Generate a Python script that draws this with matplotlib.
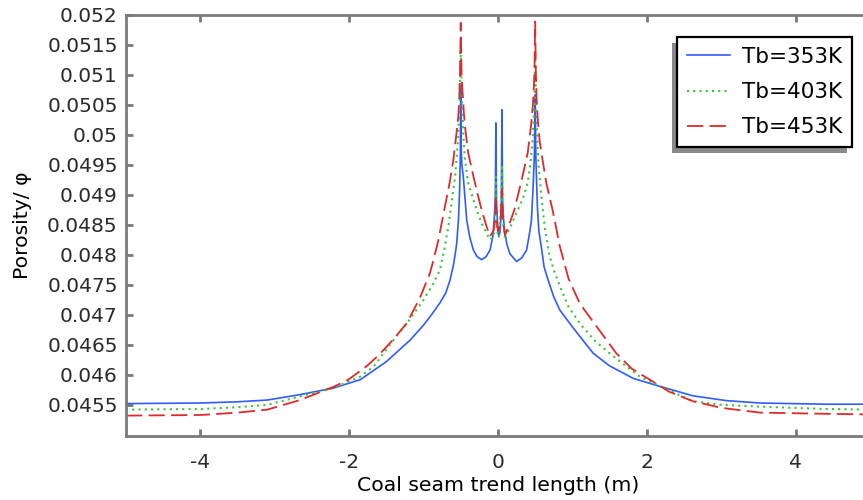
import matplotlib
matplotlib.use("Agg")
import matplotlib.pyplot as plt
from matplotlib.patches import Rectangle
from matplotlib.ticker import FuncFormatter

plt.rcParams['axes.unicode_minus'] = False
plt.rcParams['font.family'] = 'DejaVu Sans'

# porosity along the seam, Tb = 353 K
x353 = [-5.0, -4.0, -3.5, -3.1, -2.66, -2.21, -1.85, -1.5, -1.18, -1.0, -0.9,
        -0.78, -0.7, -0.644, -0.6, -0.57, -0.554, -0.53, -0.515, -0.505, -0.5,
        -0.495, -0.485, -0.466, -0.44, -0.42, -0.38, -0.33, -0.28, -0.22, -0.16,
        -0.107, -0.07, -0.05, -0.035, -0.027, -0.02, 0.0, 0.012, 0.03, 0.045,
        0.054, 0.062, 0.075, 0.09, 0.12, 0.16, 0.25, 0.32, 0.385, 0.43, 0.45,
        0.475, 0.49, 0.5, 0.51, 0.53, 0.55, 0.587, 0.62, 0.675, 0.75, 0.832,
        1.0, 1.28, 1.5, 1.82, 2.17, 2.62, 3.07, 3.52, 4.41, 5.0]
y353 = [0.04552, 0.04553, 0.04555, 0.04558, 0.04567, 0.04578, 0.04592, 0.04622,
        0.04658, 0.04683, 0.04699, 0.0472, 0.04737, 0.04758, 0.04782, 0.04805,
        0.0482, 0.0486, 0.0491, 0.0497, 0.05083, 0.0498, 0.0495, 0.04931,
        0.0489, 0.04858, 0.0483, 0.04808, 0.04797, 0.04792, 0.04797, 0.04808,
        0.0483, 0.0486, 0.0490, 0.0502, 0.0489, 0.0484, 0.0483, 0.0484, 0.0488,
        0.05042, 0.0489, 0.0486, 0.0484, 0.04818, 0.04802, 0.04789, 0.04795,
        0.04808, 0.0484, 0.04858, 0.0492, 0.0497, 0.05067, 0.0496, 0.0488,
        0.0484, 0.0481, 0.0478, 0.04758, 0.0473, 0.04708, 0.0468, 0.04636,
        0.04615, 0.04594, 0.04581, 0.04565, 0.04557, 0.04553, 0.04551, 0.04551]

# Tb = 403 K
x403 = [-5.0, -4.0, -3.5, -3.1, -2.66, -2.21, -1.85, -1.67, -1.405, -1.2, -1.0,
        -0.87, -0.78, -0.72, -0.667, -0.62, -0.577, -0.533, -0.515, -0.5, -0.485,
        -0.465, -0.443, -0.4, -0.33, -0.27, -0.22, -0.16, -0.107, -0.06, -0.035,
        -0.027, -0.02, 0.0, 0.012, 0.035, 0.054, 0.065, 0.09, 0.12, 0.18, 0.24,
        0.33, 0.4, 0.443, 0.47, 0.49, 0.5, 0.51, 0.525, 0.545, 0.59, 0.63, 0.69,
        0.75, 0.832, 0.95, 1.1, 1.3, 1.5, 1.906, 2.3, 2.62, 3.0, 3.52, 4.41, 5.0]
y403 = [0.04542, 0.04543, 0.04546, 0.0455, 0.04564, 0.04578, 0.04597, 0.04614,
        0.04658, 0.0469, 0.04725, 0.04752, 0.04775, 0.0481, 0.04847, 0.0489,
        0.0493, 0.04997, 0.0506, 0.0514, 0.0506, 0.0500, 0.04958, 0.0492,
        0.04892, 0.0487, 0.04853, 0.04838, 0.04825, 0.0483, 0.0486, 0.0493,
        0.0486, 0.0483, 0.0483, 0.0486, 0.0495, 0.0486, 0.0483, 0.04835,
        0.0485, 0.04868, 0.04892, 0.0492, 0.04958, 0.0500, 0.0506, 0.0514,
        0.0506, 0.0500, 0.0495, 0.0489, 0.04845, 0.048, 0.04775, 0.04748,
        0.04713, 0.04686, 0.04657, 0.04636, 0.04597, 0.04574, 0.04556, 0.0455,
        0.04547, 0.04543, 0.04542]

# Tb = 453 K
x453 = [-5.0, -4.0, -3.5, -3.1, -2.66, -2.21, -2.01, -1.76, -1.6, -1.4, -1.226,
        -1.05, -0.913, -0.87, -0.8, -0.73, -0.65, -0.6, -0.56, -0.533, -0.52,
        -0.51, -0.5, -0.49, -0.475, -0.46, -0.443, -0.4, -0.33, -0.27, -0.22,
        -0.16, -0.107, -0.06, -0.035, -0.027, -0.02, 0.0, 0.012, 0.035, 0.054,
        0.065, 0.094, 0.15, 0.22, 0.27, 0.33, 0.4, 0.443, 0.47, 0.49, 0.5, 0.51,
        0.52, 0.533, 0.56, 0.6, 0.65, 0.734, 0.832, 0.95, 1.1, 1.3, 1.59, 1.8,
        2.04, 2.3, 2.62, 3.0, 3.52, 4.41, 5.0]
y453 = [0.04532, 0.04533, 0.04537, 0.04542, 0.04558, 0.0458, 0.04592, 0.04615,
        0.04633, 0.0466, 0.04686, 0.04728, 0.0477, 0.0479, 0.04825, 0.0487,
        0.0492, 0.04958, 0.0500, 0.0503, 0.0506, 0.0510, 0.05187, 0.0510,
        0.0507, 0.0504, 0.05014, 0.0497, 0.04931, 0.049, 0.04875, 0.0485,
        0.04831, 0.0484, 0.0486, 0.0490, 0.0486, 0.0484, 0.0484, 0.0486,
        0.0491, 0.0486, 0.04833, 0.0485, 0.04875, 0.049, 0.04931, 0.0497,
        0.05014, 0.0505, 0.0510, 0.05189, 0.0510, 0.0506, 0.0503, 0.0499,
        0.04958, 0.0492, 0.04875, 0.04814, 0.0476, 0.04719, 0.04685, 0.04636,
        0.0461, 0.04592, 0.04572, 0.04556, 0.04545, 0.04537, 0.04535, 0.04534]

yticks = [0.0455, 0.046, 0.0465, 0.047, 0.0475, 0.048, 0.0485, 0.049, 0.0495,
          0.05, 0.0505, 0.051, 0.0515, 0.052]
xticks = [-4, -2, 0, 2, 4]

fig = plt.figure(figsize=(8.63, 5.0), dpi=100)
ax = fig.add_axes([0.146, 0.128, 0.862, 0.842])

ax.plot(x353, y353, color='#2f5cff', lw=1.2, label='Tb=353K')
ax.plot(x403, y403, color='#3cc43c', lw=1.5, linestyle=(0, (1, 2)), label='Tb=403K')
ax.plot(x453, y453, color='#e02a2a', lw=1.3, dashes=(9, 3.5), label='Tb=453K')

ax.set_xticks(xticks)
ax.set_yticks(yticks)
ax.yaxis.set_major_formatter(FuncFormatter(lambda v, p: '%g' % v))

for s in ax.spines.values():
    s.set_color('#7a7a7a')
    s.set_linewidth(2)
ax.tick_params(direction='in', length=5, width=2, color='#7a7a7a',
               labelsize=14.5, labelcolor='#2a2a2a', top=True, right=True)
ax.tick_params(axis='x', pad=12)
ax.tick_params(axis='y', pad=6)

ax.set_xlabel('Coal seam trend length (m)', fontsize=14.7, labelpad=3)
ax.set_ylabel('Porosity/ φ', fontsize=14.7, labelpad=11)

leg = ax.legend(loc='upper right', bbox_to_anchor=(0.976, 0.948),
                borderaxespad=0, fontsize=15.5, fancybox=False,
                edgecolor='black', framealpha=1, handlelength=2.0,
                handletextpad=0.55, borderpad=0.47, labelspacing=0.7)
leg.get_frame().set_linewidth(1.6)

# grey drop shadow to the lower left of the legend box
fig.canvas.draw()
bb = leg.get_frame().get_window_extent().transformed(fig.transFigure.inverted())
dx, dy = 5 / 863, 6 / 500
ax.add_patch(Rectangle((bb.x0 - dx, bb.y0 - dy), bb.width, bb.height,
                       transform=fig.transFigure, facecolor='#8a8a8a',
                       edgecolor='none', zorder=4.9))

ax.set_xlim(-5, 5)
ax.set_ylim(0.04498, 0.052)

fig.savefig('out.png', dpi=100)
